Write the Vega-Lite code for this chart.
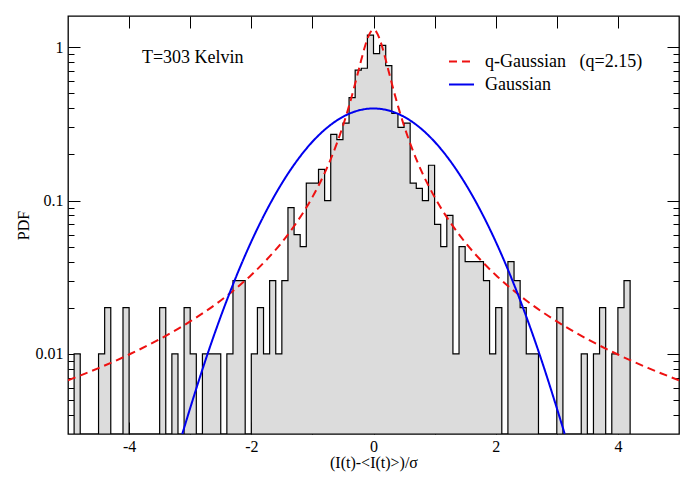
{
  "$schema": "https://vega.github.io/schema/vega-lite/v6.json",
  "width": 611,
  "height": 418,
  "autosize": {"type": "none"},
  "padding": {"left": 68, "top": 16, "right": 18, "bottom": 47},
  "background": "white",
  "config": {
    "font": "Liberation Serif",
    "view": {"stroke": "black", "strokeWidth": 1.3},
    "axis": {
      "grid": false,
      "domain": false,
      "tickColor": "black",
      "tickWidth": 1,
      "labelColor": "black",
      "labelFont": "Liberation Serif",
      "labelFontSize": 16,
      "labelOverlap": false,
      "labelFlush": false,
      "titleFont": "Liberation Serif",
      "titleFontSize": 16,
      "titleFontWeight": "normal",
      "titleColor": "black"
    }
  },
  "datasets": {
    "hist": [
      {"x": -4.9, "pdf": 0.01}, {"x": -4.8, "pdf": 0}, {"x": -4.7, "pdf": 0}, {"x": -4.6, "pdf": 0},
      {"x": -4.5, "pdf": 0.01}, {"x": -4.4, "pdf": 0.02}, {"x": -4.3, "pdf": 0}, {"x": -4.2, "pdf": 0},
      {"x": -4.1, "pdf": 0.02}, {"x": -4.0, "pdf": 0}, {"x": -3.9, "pdf": 0}, {"x": -3.8, "pdf": 0},
      {"x": -3.7, "pdf": 0}, {"x": -3.6, "pdf": 0}, {"x": -3.5, "pdf": 0.02}, {"x": -3.4, "pdf": 0},
      {"x": -3.3, "pdf": 0.01}, {"x": -3.2, "pdf": 0}, {"x": -3.1, "pdf": 0.02}, {"x": -3.0, "pdf": 0.01},
      {"x": -2.9, "pdf": 0}, {"x": -2.8, "pdf": 0.01}, {"x": -2.7, "pdf": 0.01}, {"x": -2.6, "pdf": 0.01},
      {"x": -2.5, "pdf": 0}, {"x": -2.4, "pdf": 0.01}, {"x": -2.3, "pdf": 0.03}, {"x": -2.2, "pdf": 0.03},
      {"x": -2.1, "pdf": 0}, {"x": -2.0, "pdf": 0.01}, {"x": -1.9, "pdf": 0.02}, {"x": -1.8, "pdf": 0.01},
      {"x": -1.7, "pdf": 0.03}, {"x": -1.6, "pdf": 0.01}, {"x": -1.5, "pdf": 0.03}, {"x": -1.4, "pdf": 0.09},
      {"x": -1.3, "pdf": 0.06}, {"x": -1.2, "pdf": 0.05}, {"x": -1.1, "pdf": 0.13}, {"x": -1.0, "pdf": 0.13},
      {"x": -0.9, "pdf": 0.16}, {"x": -0.8, "pdf": 0.10}, {"x": -0.7, "pdf": 0.27}, {"x": -0.6, "pdf": 0.25},
      {"x": -0.5, "pdf": 0.32}, {"x": -0.4, "pdf": 0.47}, {"x": -0.3, "pdf": 0.71}, {"x": -0.2, "pdf": 0.73},
      {"x": -0.1, "pdf": 1.20}, {"x": 0.0, "pdf": 0.91}, {"x": 0.1, "pdf": 1.03}, {"x": 0.2, "pdf": 0.76},
      {"x": 0.3, "pdf": 0.37}, {"x": 0.4, "pdf": 0.30}, {"x": 0.5, "pdf": 0.32}, {"x": 0.6, "pdf": 0.13},
      {"x": 0.7, "pdf": 0.12}, {"x": 0.8, "pdf": 0.10}, {"x": 0.9, "pdf": 0.17}, {"x": 1.0, "pdf": 0.07},
      {"x": 1.1, "pdf": 0.05}, {"x": 1.2, "pdf": 0.08}, {"x": 1.3, "pdf": 0.01}, {"x": 1.4, "pdf": 0.05},
      {"x": 1.5, "pdf": 0.04}, {"x": 1.6, "pdf": 0.04}, {"x": 1.7, "pdf": 0.04}, {"x": 1.8, "pdf": 0.03},
      {"x": 1.9, "pdf": 0.01}, {"x": 2.0, "pdf": 0.02}, {"x": 2.1, "pdf": 0}, {"x": 2.2, "pdf": 0.04},
      {"x": 2.3, "pdf": 0.03}, {"x": 2.4, "pdf": 0.02}, {"x": 2.5, "pdf": 0.01}, {"x": 2.6, "pdf": 0.01},
      {"x": 2.7, "pdf": 0}, {"x": 2.8, "pdf": 0}, {"x": 2.9, "pdf": 0}, {"x": 3.0, "pdf": 0.02},
      {"x": 3.1, "pdf": 0}, {"x": 3.2, "pdf": 0}, {"x": 3.3, "pdf": 0}, {"x": 3.4, "pdf": 0.01},
      {"x": 3.5, "pdf": 0}, {"x": 3.6, "pdf": 0.01}, {"x": 3.7, "pdf": 0.02}, {"x": 3.8, "pdf": 0},
      {"x": 3.9, "pdf": 0.01}, {"x": 4.0, "pdf": 0.02}, {"x": 4.1, "pdf": 0.03}, {"x": 4.2, "pdf": 0}
    ],
    "curves": [
      {"curve": "q-Gaussian\u00a0\u00a0\u00a0(q=2.15)", "x": -5, "pdf": 0.00672},
      {"curve": "q-Gaussian\u00a0\u00a0\u00a0(q=2.15)", "x": -4.5, "pdf": 0.00807},
      {"curve": "q-Gaussian\u00a0\u00a0\u00a0(q=2.15)", "x": -4, "pdf": 0.0099},
      {"curve": "q-Gaussian\u00a0\u00a0\u00a0(q=2.15)", "x": -3.5, "pdf": 0.01247},
      {"curve": "q-Gaussian\u00a0\u00a0\u00a0(q=2.15)", "x": -3, "pdf": 0.01628},
      {"curve": "q-Gaussian\u00a0\u00a0\u00a0(q=2.15)", "x": -2.5, "pdf": 0.02229},
      {"curve": "q-Gaussian\u00a0\u00a0\u00a0(q=2.15)", "x": -2, "pdf": 0.0327},
      {"curve": "q-Gaussian\u00a0\u00a0\u00a0(q=2.15)", "x": -1.75, "pdf": 0.0411},
      {"curve": "q-Gaussian\u00a0\u00a0\u00a0(q=2.15)", "x": -1.5, "pdf": 0.0534},
      {"curve": "q-Gaussian\u00a0\u00a0\u00a0(q=2.15)", "x": -1.25, "pdf": 0.0727},
      {"curve": "q-Gaussian\u00a0\u00a0\u00a0(q=2.15)", "x": -1, "pdf": 0.1053},
      {"curve": "q-Gaussian\u00a0\u00a0\u00a0(q=2.15)", "x": -0.8, "pdf": 0.1511},
      {"curve": "q-Gaussian\u00a0\u00a0\u00a0(q=2.15)", "x": -0.7, "pdf": 0.1864},
      {"curve": "q-Gaussian\u00a0\u00a0\u00a0(q=2.15)", "x": -0.6, "pdf": 0.2358},
      {"curve": "q-Gaussian\u00a0\u00a0\u00a0(q=2.15)", "x": -0.5, "pdf": 0.3074},
      {"curve": "q-Gaussian\u00a0\u00a0\u00a0(q=2.15)", "x": -0.4, "pdf": 0.4148},
      {"curve": "q-Gaussian\u00a0\u00a0\u00a0(q=2.15)", "x": -0.3, "pdf": 0.58},
      {"curve": "q-Gaussian\u00a0\u00a0\u00a0(q=2.15)", "x": -0.25, "pdf": 0.6927},
      {"curve": "q-Gaussian\u00a0\u00a0\u00a0(q=2.15)", "x": -0.2, "pdf": 0.828},
      {"curve": "q-Gaussian\u00a0\u00a0\u00a0(q=2.15)", "x": -0.15, "pdf": 0.9809},
      {"curve": "q-Gaussian\u00a0\u00a0\u00a0(q=2.15)", "x": -0.1, "pdf": 1.1341},
      {"curve": "q-Gaussian\u00a0\u00a0\u00a0(q=2.15)", "x": -0.05, "pdf": 1.2538},
      {"curve": "q-Gaussian\u00a0\u00a0\u00a0(q=2.15)", "x": 0, "pdf": 1.3},
      {"curve": "q-Gaussian\u00a0\u00a0\u00a0(q=2.15)", "x": 0.05, "pdf": 1.2538},
      {"curve": "q-Gaussian\u00a0\u00a0\u00a0(q=2.15)", "x": 0.1, "pdf": 1.1341},
      {"curve": "q-Gaussian\u00a0\u00a0\u00a0(q=2.15)", "x": 0.15, "pdf": 0.9809},
      {"curve": "q-Gaussian\u00a0\u00a0\u00a0(q=2.15)", "x": 0.2, "pdf": 0.828},
      {"curve": "q-Gaussian\u00a0\u00a0\u00a0(q=2.15)", "x": 0.25, "pdf": 0.6927},
      {"curve": "q-Gaussian\u00a0\u00a0\u00a0(q=2.15)", "x": 0.3, "pdf": 0.58},
      {"curve": "q-Gaussian\u00a0\u00a0\u00a0(q=2.15)", "x": 0.4, "pdf": 0.4148},
      {"curve": "q-Gaussian\u00a0\u00a0\u00a0(q=2.15)", "x": 0.5, "pdf": 0.3074},
      {"curve": "q-Gaussian\u00a0\u00a0\u00a0(q=2.15)", "x": 0.6, "pdf": 0.2358},
      {"curve": "q-Gaussian\u00a0\u00a0\u00a0(q=2.15)", "x": 0.7, "pdf": 0.1864},
      {"curve": "q-Gaussian\u00a0\u00a0\u00a0(q=2.15)", "x": 0.8, "pdf": 0.1511},
      {"curve": "q-Gaussian\u00a0\u00a0\u00a0(q=2.15)", "x": 1, "pdf": 0.1053},
      {"curve": "q-Gaussian\u00a0\u00a0\u00a0(q=2.15)", "x": 1.25, "pdf": 0.0727},
      {"curve": "q-Gaussian\u00a0\u00a0\u00a0(q=2.15)", "x": 1.5, "pdf": 0.0534},
      {"curve": "q-Gaussian\u00a0\u00a0\u00a0(q=2.15)", "x": 1.75, "pdf": 0.0411},
      {"curve": "q-Gaussian\u00a0\u00a0\u00a0(q=2.15)", "x": 2, "pdf": 0.0327},
      {"curve": "q-Gaussian\u00a0\u00a0\u00a0(q=2.15)", "x": 2.5, "pdf": 0.02229},
      {"curve": "q-Gaussian\u00a0\u00a0\u00a0(q=2.15)", "x": 3, "pdf": 0.01628},
      {"curve": "q-Gaussian\u00a0\u00a0\u00a0(q=2.15)", "x": 3.5, "pdf": 0.01247},
      {"curve": "q-Gaussian\u00a0\u00a0\u00a0(q=2.15)", "x": 4, "pdf": 0.0099},
      {"curve": "q-Gaussian\u00a0\u00a0\u00a0(q=2.15)", "x": 4.5, "pdf": 0.00807},
      {"curve": "q-Gaussian\u00a0\u00a0\u00a0(q=2.15)", "x": 5, "pdf": 0.00672},
      {"curve": "Gaussian", "x": -3.13, "pdf": 0.00299},
      {"curve": "Gaussian", "x": -3, "pdf": 0.00443},
      {"curve": "Gaussian", "x": -2.75, "pdf": 0.00909},
      {"curve": "Gaussian", "x": -2.5, "pdf": 0.01753},
      {"curve": "Gaussian", "x": -2.25, "pdf": 0.03174},
      {"curve": "Gaussian", "x": -2, "pdf": 0.054},
      {"curve": "Gaussian", "x": -1.75, "pdf": 0.0863},
      {"curve": "Gaussian", "x": -1.5, "pdf": 0.1295},
      {"curve": "Gaussian", "x": -1.25, "pdf": 0.1826},
      {"curve": "Gaussian", "x": -1, "pdf": 0.242},
      {"curve": "Gaussian", "x": -0.75, "pdf": 0.3011},
      {"curve": "Gaussian", "x": -0.5, "pdf": 0.3521},
      {"curve": "Gaussian", "x": -0.25, "pdf": 0.3867},
      {"curve": "Gaussian", "x": 0, "pdf": 0.3989},
      {"curve": "Gaussian", "x": 0.25, "pdf": 0.3867},
      {"curve": "Gaussian", "x": 0.5, "pdf": 0.3521},
      {"curve": "Gaussian", "x": 0.75, "pdf": 0.3011},
      {"curve": "Gaussian", "x": 1, "pdf": 0.242},
      {"curve": "Gaussian", "x": 1.25, "pdf": 0.1826},
      {"curve": "Gaussian", "x": 1.5, "pdf": 0.1295},
      {"curve": "Gaussian", "x": 1.75, "pdf": 0.0863},
      {"curve": "Gaussian", "x": 2, "pdf": 0.054},
      {"curve": "Gaussian", "x": 2.25, "pdf": 0.03174},
      {"curve": "Gaussian", "x": 2.5, "pdf": 0.01753},
      {"curve": "Gaussian", "x": 2.75, "pdf": 0.00909},
      {"curve": "Gaussian", "x": 3, "pdf": 0.00443},
      {"curve": "Gaussian", "x": 3.13, "pdf": 0.00299}
    ],
    "notes": [{"x": -3.79, "pdf": 0.85, "label": "T=303 Kelvin"}]
  },
  "resolve": {"axis": {"x": "independent", "y": "independent"}},
  "layer": [
    {
      "data": {"name": "hist"},
      "mark": {"type": "area", "interpolate": "step-after", "fill": "#dcdcdc", "stroke": "black", "strokeWidth": 1.2, "clip": true},
      "encoding": {
        "x": {
          "field": "x", "type": "quantitative",
          "scale": {"domain": [-5, 5], "nice": false, "zero": false},
          "axis": {
            "orient": "bottom",
            "values": [-4, -3, -2, -1, 0, 1, 2, 3, 4],
            "tickSize": {"condition": {"test": "datum.value % 2 == 0", "value": -12}, "value": -6},
            "labelExpr": "datum.value % 2 == 0 ? (datum.value < 0 ? '-' + abs(datum.value) : '' + datum.value) : ''",
            "labelPadding": 16,
            "title": "(I(t)-<I(t)>)/σ",
            "titlePadding": -6
          }
        },
        "y": {
          "field": "pdf", "type": "quantitative",
          "scale": {"type": "log", "domain": [0.003, 1.6], "nice": false, "clamp": true},
          "axis": {
            "orient": "left",
            "values": [0.004, 0.005, 0.006, 0.007, 0.008, 0.009, 0.01, 0.02, 0.03, 0.04, 0.05, 0.06, 0.07, 0.08, 0.09, 0.1, 0.2, 0.3, 0.4, 0.5, 0.6, 0.7, 0.8, 0.9, 1],
            "tickSize": {"condition": {"test": "datum.value == 0.01 || datum.value == 0.1 || datum.value == 1", "value": -12}, "value": -6},
            "labelExpr": "datum.value == 1 ? '1' : datum.value == 0.1 ? '0.1' : datum.value == 0.01 ? '0.01' : ''",
            "labelPadding": 17,
            "title": "PDF",
            "titlePadding": 4
          }
        }
      }
    },
    {
      "data": {"name": "curves"},
      "mark": {"type": "line", "interpolate": "monotone", "strokeWidth": 2, "clip": true},
      "encoding": {
        "x": {
          "field": "x", "type": "quantitative",
          "axis": {
            "orient": "top",
            "values": [-4, -3, -2, -1, 0, 1, 2, 3, 4],
            "tickSize": -12,
            "labels": false,
            "title": null
          }
        },
        "y": {
          "field": "pdf", "type": "quantitative",
          "axis": {
            "orient": "right",
            "values": [0.004, 0.005, 0.006, 0.007, 0.008, 0.009, 0.01, 0.02, 0.03, 0.04, 0.05, 0.06, 0.07, 0.08, 0.09, 0.1, 0.2, 0.3, 0.4, 0.5, 0.6, 0.7, 0.8, 0.9, 1],
            "tickSize": {"condition": {"test": "datum.value == 0.01 || datum.value == 0.1 || datum.value == 1", "value": -12}, "value": -6},
            "labels": false,
            "title": null
          }
        },
        "color": {
          "field": "curve", "type": "nominal", "title": null,
          "scale": {"domain": ["q-Gaussian\u00a0\u00a0\u00a0(q=2.15)", "Gaussian"], "range": ["#ee1111", "#0000ee"]},
          "legend": {"orient": "none", "legendX": 380, "legendY": 32, "symbolType": "stroke", "symbolSize": 625, "symbolStrokeWidth": 2, "labelFont": "Liberation Serif", "labelFontSize": 18, "labelColor": "black", "labelOffset": 10, "rowPadding": -4, "labelLimit": 400}
        },
        "strokeDash": {
          "field": "curve", "type": "nominal", "title": null,
          "scale": {"domain": ["q-Gaussian\u00a0\u00a0\u00a0(q=2.15)", "Gaussian"], "range": [[8, 5], [1, 0]]},
          "legend": {"orient": "none", "legendX": 380, "legendY": 32, "symbolType": "stroke", "symbolSize": 625, "symbolStrokeWidth": 2, "labelFont": "Liberation Serif", "labelFontSize": 18, "labelColor": "black", "labelOffset": 10, "rowPadding": -4, "labelLimit": 400}
        }
      }
    },
    {
      "data": {"name": "notes"},
      "mark": {"type": "text", "align": "left", "baseline": "middle", "font": "Liberation Serif", "fontSize": 18, "color": "black"},
      "encoding": {
        "x": {"field": "x", "type": "quantitative", "axis": null},
        "y": {"field": "pdf", "type": "quantitative", "axis": null},
        "text": {"field": "label"}
      }
    }
  ]
}
